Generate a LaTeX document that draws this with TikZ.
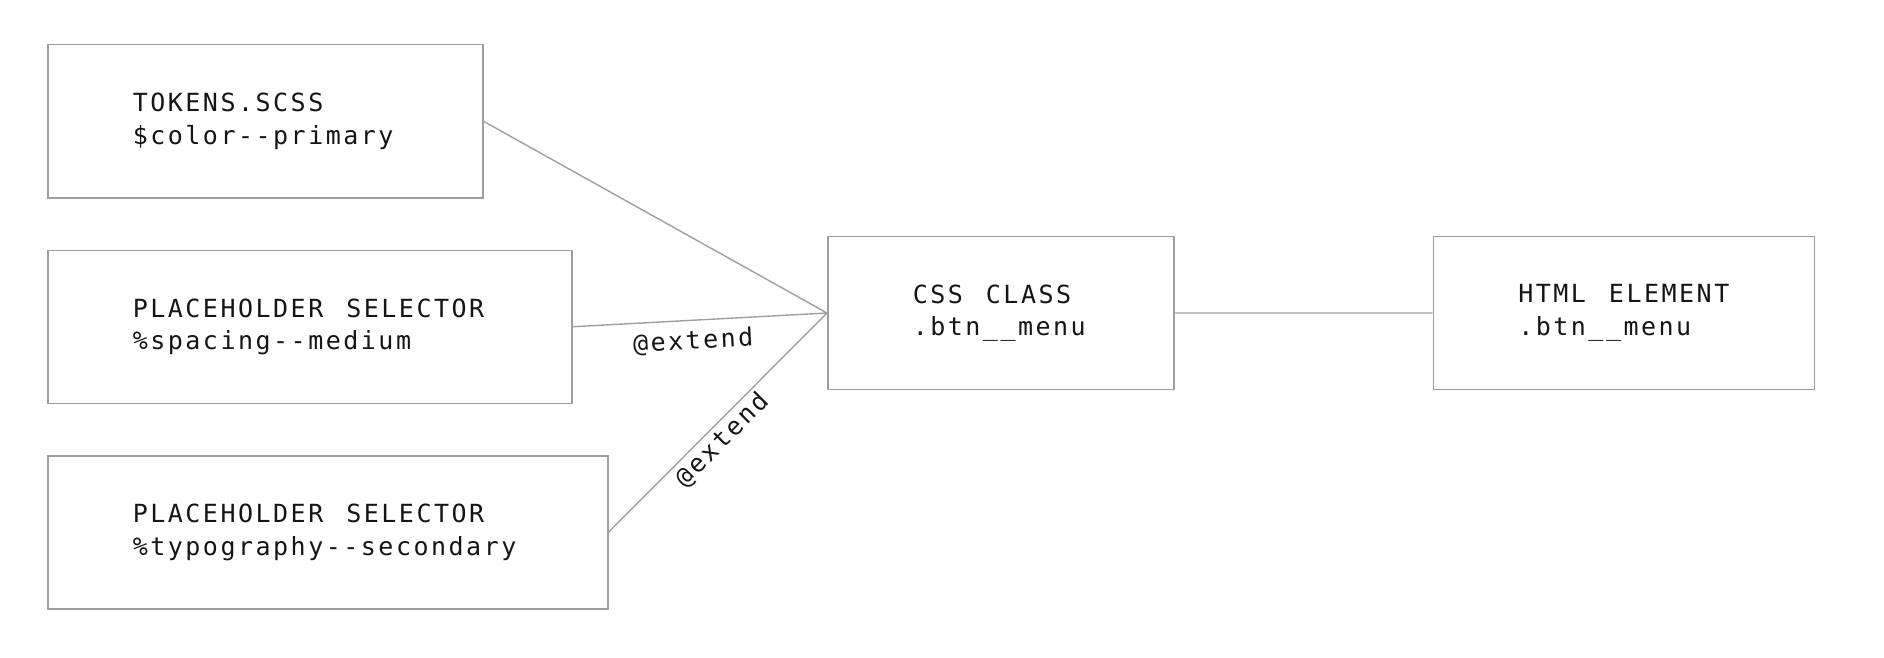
\documentclass[tikz,border=0pt]{standalone}
\usepackage{fontspec}
\setmonofont{DejaVu Sans Mono}[LetterSpace=10,HyphenChar=None]
\usetikzlibrary{positioning}
\definecolor{boxgray}{HTML}{9E9E9E}
\definecolor{inkblack}{HTML}{151515}
\newcommand{\wordgap}{\kern23pt\relax}
\tikzstyle{codebox}=[rectangle, draw=boxgray, line width=1.5pt, minimum height=153pt,
    inner xsep=0pt, align=left, text=inkblack, font=\ttfamily\fontsize{25}{32.4}\selectfont]
\tikzstyle{linkpath}=[draw=boxgray, line width=1.4pt]
\tikzstyle{extendlabel}=[text=inkblack, sloped, pos=0.47, font=\ttfamily\fontsize{25}{30}\selectfont]

\begin{document}
\begin{tikzpicture}[x=1pt,y=-1pt]
        \useasboundingbox (0,0) rectangle (1884,658);

        \node[codebox, minimum width=435pt, text width=265pt, anchor=north west] (tokens) at (47,44) {TOKENS.SCSS\\\$color--primary};
        \node[codebox, minimum width=524pt, text width=354pt, below=51pt of tokens.south west, anchor=north west] (ph1) {PLACEHOLDER\wordgap SELECTOR\\\%spacing--medium};
        \node[codebox, minimum width=560pt, text width=390pt, below=51pt of ph1.south west, anchor=north west] (ph2) {PLACEHOLDER\wordgap SELECTOR\\\%typography--secondary};
        \node[codebox, minimum width=346pt, text width=176pt, anchor=west] (css) at (827,313) {CSS\wordgap CLASS\\.btn\_\_menu};
        \node[codebox, minimum width=381pt, text width=211pt, right=258pt of css] (html) {HTML\wordgap ELEMENT\\.btn\_\_menu};

        \path[linkpath]
            (tokens.east) -- (css.west)
            (css.east) -- (html.west);
        \path[linkpath]
            (ph1.east) -- node[extendlabel, below=6pt] {@extend} (css.west);
        \path[linkpath]
            (ph2.east) -- node[extendlabel, below] {@extend} (css.west);
    \end{tikzpicture}
\end{document}
